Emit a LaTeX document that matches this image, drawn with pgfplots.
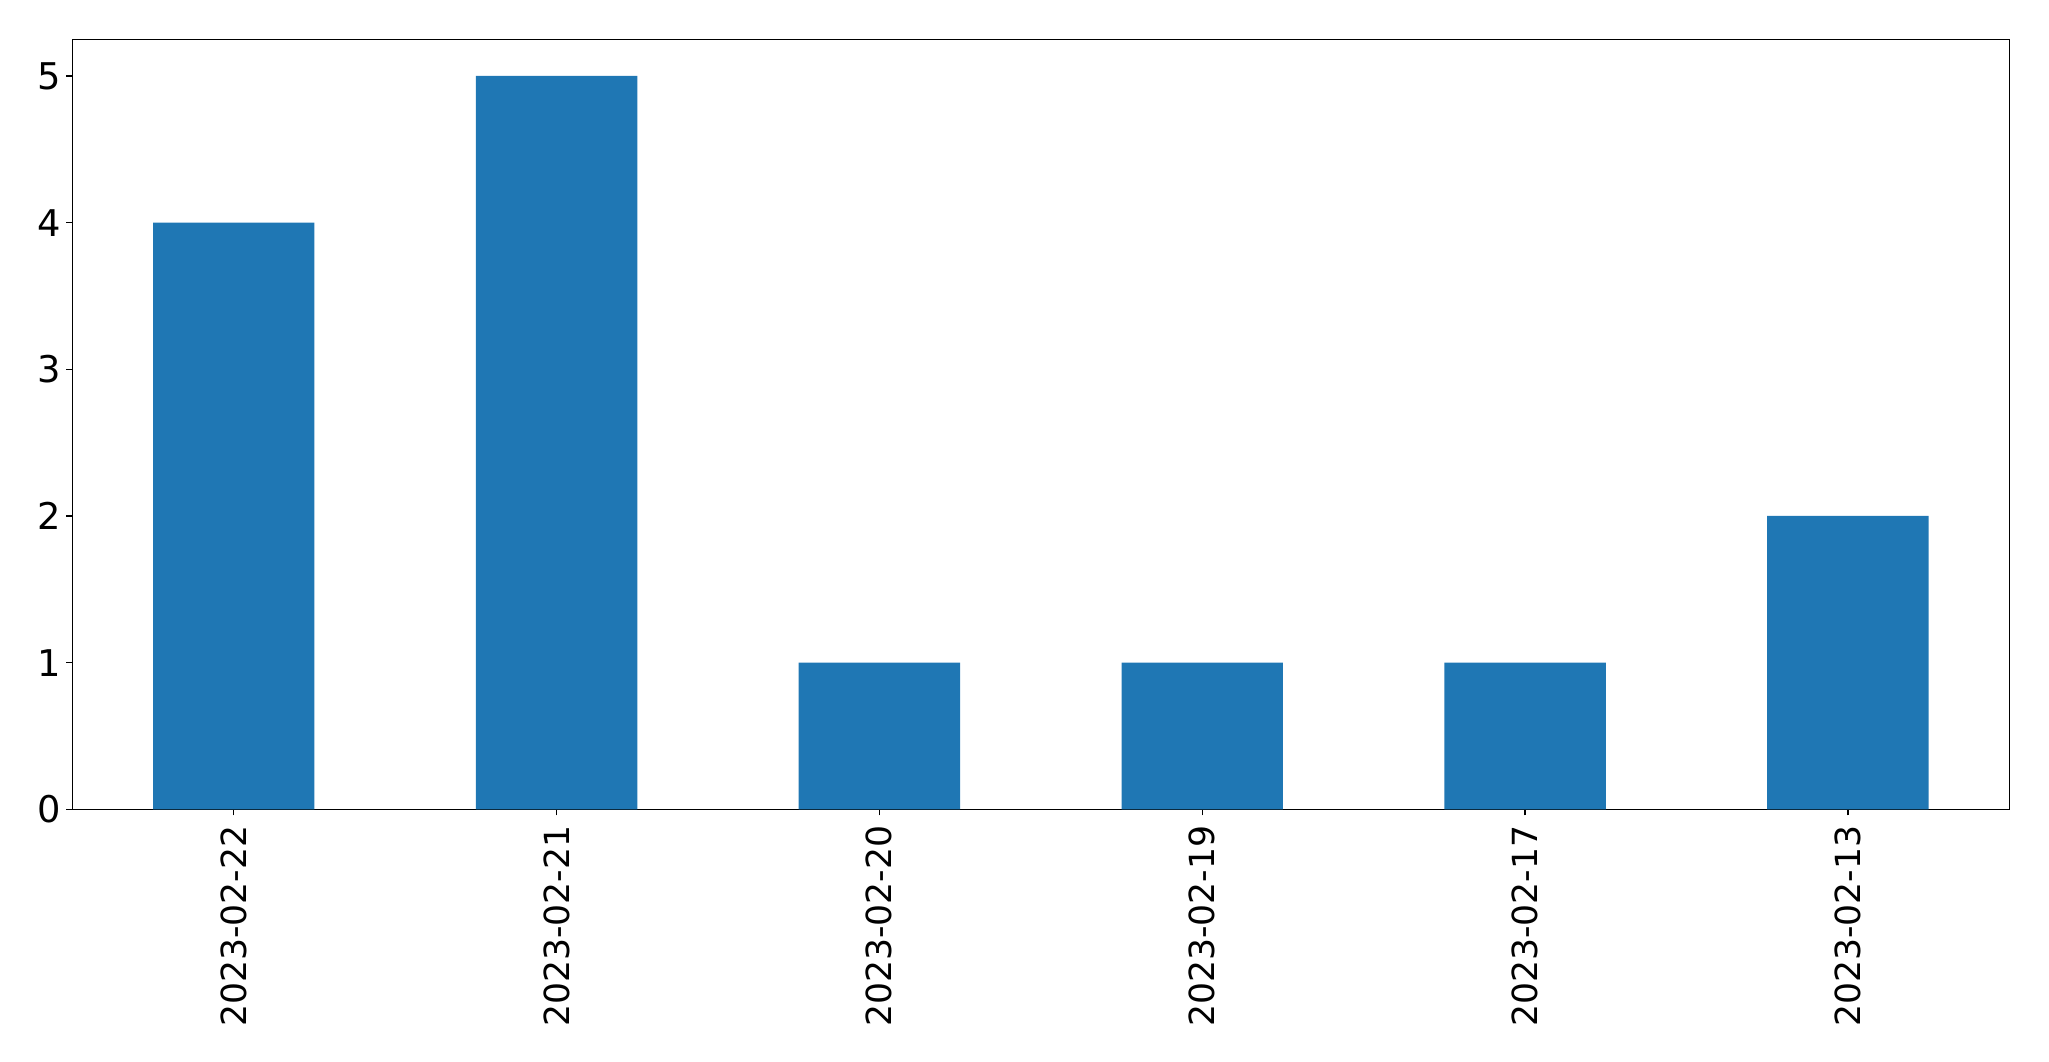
\documentclass[border=0pt]{standalone}
\usepackage{fontspec}
\setmainfont{DejaVu Sans}
\usepackage{pgfplots}
\pgfplotsset{compat=1.18}
\definecolor{mplblue}{HTML}{1F77B4}
\begin{document}
\begin{tikzpicture}
\begin{axis}[
  scale only axis,
  width=968.5pt, height=385pt,
  xmin=-0.5, xmax=5.5, ymin=0, ymax=5.25,
  xtick={0,1,2,3,4,5},
  xticklabels={2023-02-22,2023-02-21,2023-02-20,2023-02-19,2023-02-17,2023-02-13},
  ytick={0,1,2,3,4,5},
  tick align=outside,
  tick pos=left,
  major tick length=3pt,
  axis line style={line width=0.6pt},
  tick style={line width=0.6pt, black},
  /pgf/number format/assume math mode=true,
  x tick label style={font=\fontsize{17.3}{17.3}\selectfont, rotate=90, anchor=east, inner sep=0pt, xshift=-5pt},
  y tick label style={font=\fontsize{18.4}{18.4}\selectfont, inner sep=0pt, xshift=-2.5pt},
]
\addplot[ybar, bar width=0.5, fill=mplblue, draw=none] coordinates {
  (0,4) (1,5) (2,1) (3,1) (4,1) (5,2)
};
\end{axis}
\pgfresetboundingbox
\useasboundingbox (-36.15pt,-125.85pt) rectangle (988.35pt,404.65pt);
\end{tikzpicture}
\end{document}
